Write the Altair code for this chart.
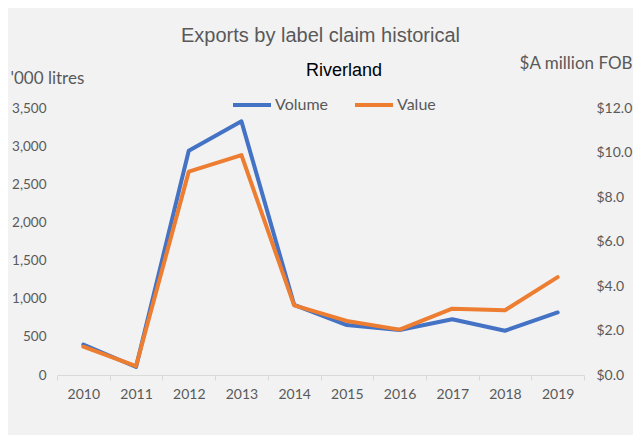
import altair as alt
import pandas as pd

years = [str(y) for y in range(2010, 2020)]
volume = [400, 105, 2940, 3325, 920, 655, 590, 730, 580, 820]
value = [1.27, 0.40, 9.14, 9.88, 3.13, 2.43, 2.04, 2.98, 2.91, 4.40]
series = ["Volume", "Value"]
colors = ["#4472C4", "#ED7D31"]
left_ticks = [0, 500, 1000, 1500, 2000, 2500, 3000, 3500]
right_ticks = [0, 2, 4, 6, 8, 10, 12]

rows = []
for i, y in enumerate(years):
    rows.append({"Year": y, "Series": "Volume", "Amount": volume[i]})
    rows.append({"Year": y, "Series": "Value", "Amount": value[i]})
df = pd.DataFrame(rows)

GREY = "#595959"
TICKFONT = "Lato"
TS = 14
AT = 17

x_enc = alt.X(
    "Year:N",
    scale=alt.Scale(paddingInner=0, paddingOuter=0),
    axis=alt.Axis(
        title=None, labelAngle=0, tickBand="extent", domainColor="#d9d9d9",
        tickColor="#d9d9d9", tickSize=5, labelPadding=7, labelColor=GREY,
        labelFontSize=TS, labelFont=TICKFONT, grid=False,
    ),
)

color_enc = alt.Color(
    "Series:N",
    scale=alt.Scale(domain=series, range=colors),
    legend=alt.Legend(
        title=None, orient="none", legendX=174, legendY=-24, direction="horizontal",
        symbolType="stroke", symbolSize=1444, symbolStrokeWidth=4,
        labelFontSize=16, labelColor=GREY, labelFont=TICKFONT,
        columnPadding=18, labelOffset=2,
    ),
)

base = alt.Chart(df)

vol = base.transform_filter(alt.datum.Series == "Volume").mark_line(
    strokeWidth=4, strokeCap="round", strokeJoin="round"
).encode(
    x=x_enc,
    y=alt.Y(
        "Amount:Q",
        scale=alt.Scale(domain=[0, 3500]),
        axis=alt.Axis(
            values=left_ticks, format=",.0f", domain=False, ticks=False, grid=False,
            labelPadding=11, labelColor=GREY, labelFontSize=13.5, labelFont=TICKFONT,
            title="'000 litres", titleAngle=0, titleAlign="left", titleBaseline="middle",
            titleX=-47, titleY=-30, titleFontSize=AT, titleFontWeight="normal",
            titleColor=GREY, titleFont=TICKFONT,
        ),
    ),
    color=color_enc,
)

val = base.transform_filter(alt.datum.Series == "Value").mark_line(
    strokeWidth=4, strokeCap="round", strokeJoin="round"
).encode(
    x=x_enc,
    y=alt.Y(
        "Amount:Q",
        scale=alt.Scale(domain=[0, 12]),
        axis=alt.Axis(
            orient="right", values=right_ticks, format="$.1f", domain=False, ticks=False,
            grid=False, labelPadding=12, labelColor=GREY, labelFontSize=TS,
            labelFont=TICKFONT, title="$A million FOB", titleAngle=0, titleAlign="right",
            titleBaseline="middle", titleX=48, titleY=-45, titleFontSize=AT,
            titleFontWeight="normal", titleColor=GREY, titleFont=TICKFONT,
        ),
    ),
    color=color_enc,
)

sub = alt.Chart(pd.DataFrame({"t": ["Riverland"]})).mark_text(
    font="Liberation Sans", fontSize=18, color="#000000"
).encode(text="t:N", x=alt.value(287), y=alt.value(-37))

chart = alt.layer(vol, val, sub).resolve_scale(y="independent").properties(
    width=527,
    height=267,
    autosize=alt.AutoSizeParams(type="none"),
    padding={"left": 49, "top": 100, "right": 49, "bottom": 60},
    background="#f2f2f2",
    title=alt.TitleParams(
        text="Exports by label claim historical", font="Liberation Sans", fontSize=20,
        color=GREY, fontWeight="normal", anchor="middle", frame="group", offset=8,
    ),
).configure_view(stroke=None)

chart.save("out.html", embed_options={"renderer": "svg", "actions": False})
